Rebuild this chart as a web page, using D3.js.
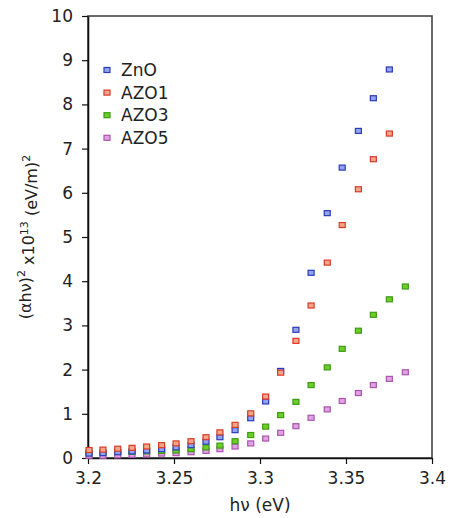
<!DOCTYPE html>
<html>
<head>
<meta charset="utf-8">
<script src="https://cdn.jsdelivr.net/npm/d3@7"></script>
<style>
  body { margin: 0; background: #fff; }
  svg text { font-family: "DejaVu Sans", "Liberation Sans", Arial, sans-serif; fill: #222; }
</style>
</head>
<body>
<div id="chart-area"></div>
<script>
// photon energy (eV) of each sample point
const energy = [3.2006, 3.2087, 3.2173, 3.2256, 3.2341, 3.2428, 3.2512, 3.2599, 3.2686,
  3.2767, 3.2855, 3.2946, 3.3033, 3.3120, 3.3209, 3.3297, 3.3391, 3.3478, 3.3572,
  3.3659, 3.3752, 3.3845];

// (ahv)^2 x10^13 values per sample
const zno  = [0.10, 0.11, 0.13, 0.15, 0.17, 0.20, 0.24, 0.29, 0.37, 0.47, 0.63, 0.90,
  1.28, 1.97, 2.90, 4.19, 5.54, 6.57, 7.40, 8.14, 8.79];
const azo1 = [0.18, 0.19, 0.21, 0.23, 0.26, 0.29, 0.33, 0.38, 0.47, 0.58, 0.75, 1.01,
  1.39, 1.93, 2.65, 3.45, 4.42, 5.27, 6.08, 6.76, 7.34];
const azo3 = [0.13, 0.13, 0.14, 0.14, 0.15, 0.16, 0.17, 0.20, 0.24, 0.28, 0.38, 0.52,
  0.71, 0.97, 1.27, 1.65, 2.05, 2.47, 2.88, 3.24, 3.59, 3.88];
const azo5 = [0.05, 0.05, 0.06, 0.07, 0.08, 0.10, 0.11, 0.13, 0.16, 0.20, 0.26, 0.33,
  0.44, 0.57, 0.72, 0.91, 1.10, 1.29, 1.47, 1.65, 1.79, 1.94];

const seriesNames = ["ZnO", "AZO1", "AZO3", "AZO5"];
const xTicks = [3.2, 3.25, 3.3, 3.35, 3.4];
const yTicks = [0, 1, 2, 3, 4, 5, 6, 7, 8, 9, 10];

/* graphical constants */
const margin = { left: 88, right: 18, top: 16, bottom: 60 };
const width = 450 - margin.left - margin.right;
const height = 518 - margin.top - margin.bottom;

const styles = [
  { stroke: "#2a3bb8", fill: "#93a4ee" },
  { stroke: "#d93a26", fill: "#f4a68a" },
  { stroke: "#3a9d12", fill: "#6fcd2a" },
  { stroke: "#a955ad", fill: "#e0a2e2" }
];

const svg = d3.select("#chart-area")
  .append("svg")
  .attr("width", 450)
  .attr("height", 518);

const g = svg.append("g")
  .attr("transform", "translate(" + margin.left + ", " + margin.top + ")");

const x = d3.scaleLinear().domain([3.2, 3.4]).range([0, width]);
const y = d3.scaleLinear().domain([0, 10]).range([height, 0]);

// frame
g.append("rect")
  .attr("x", 0).attr("y", 0)
  .attr("width", width).attr("height", height)
  .attr("fill", "none")
  .attr("stroke", "#444")
  .attr("stroke-width", 1.6);

const xAxisGroup = g.append("g")
  .attr("transform", "translate(0," + height + ")")
  .call(d3.axisBottom(x).tickValues(xTicks).tickFormat(d3.format("")).tickSize(6).tickPadding(8).tickSizeOuter(0));

const yAxisGroup = g.append("g")
  .call(d3.axisLeft(y).tickValues(yTicks).tickSize(6).tickPadding(9).tickSizeOuter(0));

[xAxisGroup, yAxisGroup].forEach(ax => {
  ax.select(".domain").attr("stroke", "#111").attr("stroke-width", 1.6);
  ax.selectAll(".tick line").attr("stroke", "#111").attr("stroke-width", 1.2);
  ax.selectAll(".tick text")
    .style("font-size", "17px")
    .attr("fill", "#222");
});

// data points
const allSeries = [zno, azo1, azo3, azo5];
const mw = 6, mh = 5;

// draw from last to first so ZnO / AZO1 end up on top like the reference
[3, 2, 0, 1].forEach(i => {
  const pts = allSeries[i].map((v, j) => ({ e: energy[j], v: v }));
  g.append("g")
    .selectAll("rect")
    .data(pts)
    .enter()
    .append("rect")
    .attr("x", d => x(d.e) - mw / 2)
    .attr("y", d => y(d.v) - mh / 2)
    .attr("width", mw)
    .attr("height", mh)
    .attr("fill", styles[i].fill)
    .attr("stroke", styles[i].stroke)
    .attr("stroke-width", 1.2);
});

// legend
const legend = g.append("g")
  .attr("transform", "translate(19, 54)");

seriesNames.forEach((name, i) => {
  const row = legend.append("g").attr("transform", "translate(0," + (i * 22.6) + ")");
  row.append("rect")
    .attr("x", -3).attr("y", -2.5)
    .attr("width", 6).attr("height", 5)
    .attr("fill", styles[i].fill)
    .attr("stroke", styles[i].stroke)
    .attr("stroke-width", 1.2);
  row.append("text")
    .attr("x", 14)
    .attr("y", 6)
    .style("font-size", "17px")
    .text(name);
});

// axis titles
svg.append("text")
  .attr("x", margin.left + width / 2)
  .attr("y", 511)
  .attr("text-anchor", "middle")
  .style("font-size", "17px")
  .text("h\u03bd (eV)");

const yTitle = svg.append("text")
  .attr("transform", "translate(31," + (margin.top + height / 2) + ") rotate(-90)")
  .attr("text-anchor", "middle")
  .style("font-size", "16px");
yTitle.append("tspan").text("(\u03b1h\u03bd)");
yTitle.append("tspan").attr("dy", "-0.55em").style("font-size", "11px").text("2");
yTitle.append("tspan").attr("dy", "0.55em").text(" x10");
yTitle.append("tspan").attr("dy", "-0.55em").style("font-size", "11px").text("13");
yTitle.append("tspan").attr("dy", "0.55em").text(" (eV/m)");
yTitle.append("tspan").attr("dy", "-0.55em").style("font-size", "11px").text("2");
</script>
</body>
</html>
